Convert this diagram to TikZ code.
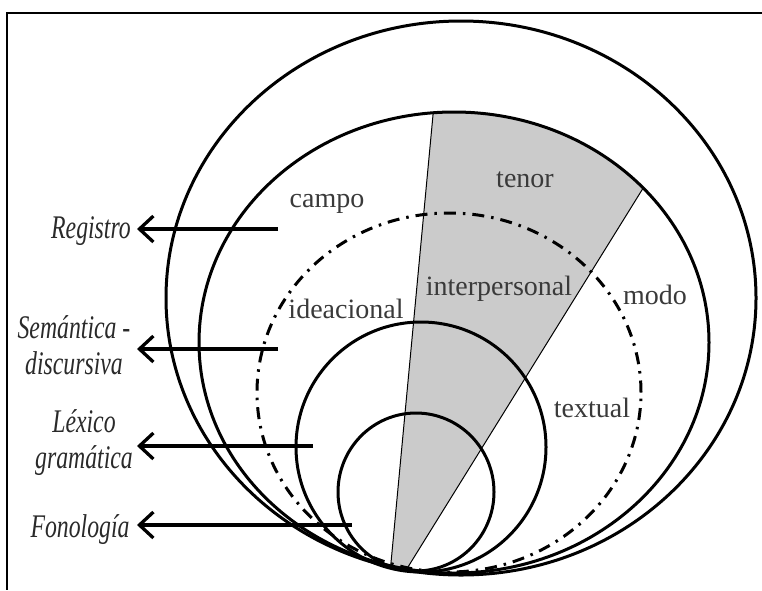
\documentclass[tikz,border=0pt]{standalone}
\usepackage{fontspec}
\setmainfont{Liberation Serif}
\newfontfamily\sidefont[FakeStretch=0.72]{Liberation Serif}
\usetikzlibrary{arrows.meta}

\definecolor{wedgegray}{HTML}{CBCBCB}
\definecolor{inkgray}{HTML}{3A3A3A}
\definecolor{sidegray}{HTML}{2A2A2A}

\tikzset{
  frameline/.style={line width=2.5pt},
  ring/.style={line width=3pt},
  dashring/.style={line width=3pt, dash pattern=on 12pt off 7pt on 2.5pt off 7pt},
  spoke/.style={line width=1pt},
  innerlabel/.style={text=inkgray, font=\fontsize{28}{30}\selectfont, inner sep=0pt},
  sidelabel/.style={text=sidegray, font=\sidefont\itshape\fontsize{33}{36}\selectfont,
                    align=center, inner sep=0pt},
  pointer/.style={line width=3.3pt, -{Straight Barb[length=14pt,width=26pt]}},
}

\begin{document}
\begin{tikzpicture}[x=1pt,y=-1pt]
  \useasboundingbox (0,0) rectangle (762,590);
  \fill[white] (0,0) rectangle (762,590);

  % open frame: top and left edges
  \draw[frameline] (762,13) -- (7,13) -- (7,590);

  % shaded sector, kept inside the second ring
  \begin{scope}
    \clip (454,342.5) ellipse [x radius=255pt, y radius=230.5pt];
    \fill[wedgegray] (387.5,600) -- (434.4,100) -- (697.8,100) -- cycle;
    \draw[spoke] (387.5,600) -- (434.4,100);
    \draw[spoke] (387.5,600) -- (697.8,100);
  \end{scope}

  % nested strata
  \draw[ring] (461,298) ellipse [x radius=295pt, y radius=277pt];
  \draw[ring] (454,342.5) ellipse [x radius=255pt, y radius=230.5pt];
  \draw[dashring] (449,392.5) ellipse [x radius=192pt, y radius=179.5pt];
  \draw[ring] (421,447) ellipse [x radius=125pt, y radius=125pt];
  \draw[ring] (416,492) ellipse [x radius=78pt, y radius=79pt];

  % labels inside the strata
  \node[innerlabel, anchor=base] (campo) at (327,207) {campo};
  \node[innerlabel, anchor=base] (tenor) at (525,187) {tenor};
  \node[innerlabel, anchor=base] (modo) at (655,304) {modo};
  \node[innerlabel, anchor=base] (idea) at (346,318) {ideacional};
  \node[innerlabel, anchor=base] (inter) at (499,295) {interpersonal};
  \node[innerlabel, anchor=base] (textual) at (592,417) {textual};

  % stratum names on the left
  \node[sidelabel, anchor=base] (reg) at (91,238) {Registro};
  \node[sidelabel] (sem) at (74,345) {Semántica -\\discursiva};
  \node[sidelabel] (lex) at (84,443) {Léxico\\gramática};
  \node[sidelabel, anchor=base] (fon) at (80,537) {Fonología};

  % pointer start and tip positions
  \coordinate (regA) at (278,229);
  \coordinate (regB) at (137,229);
  \coordinate (semA) at (278,349);
  \coordinate (semB) at (137,349);
  \coordinate (lexA) at (313,446);
  \coordinate (lexB) at (137,446);
  \coordinate (fonA) at (352,525);
  \coordinate (fonB) at (137,525);

  \draw[pointer] (regA) -- (regB);
  \draw[pointer] (semA) -- (semB);
  \draw[pointer] (lexA) -- (lexB);
  \draw[pointer] (fonA) -- (fonB);
\end{tikzpicture}
\end{document}
